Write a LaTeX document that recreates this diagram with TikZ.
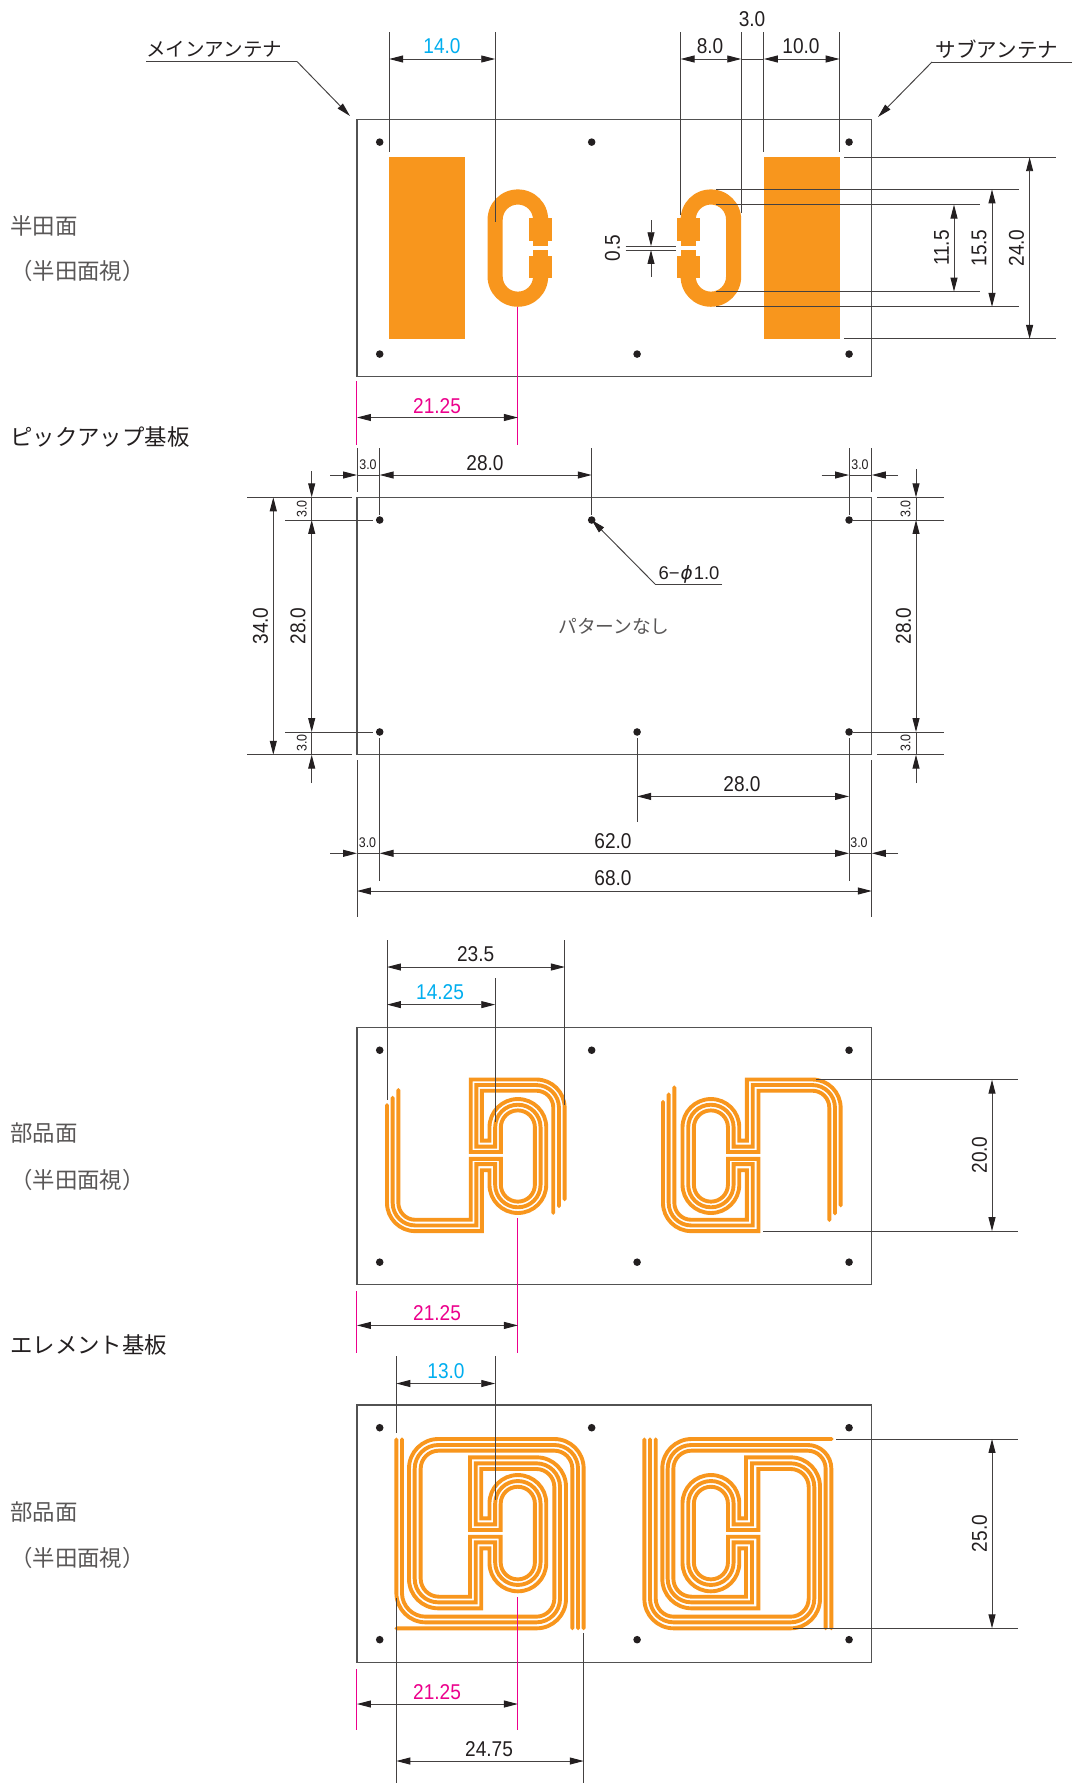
\documentclass[tikz,border=0pt]{standalone}
\usepackage{fontspec}
\setmainfont{Liberation Sans}
\newfontfamily\jp{Noto Sans CJK JP}
\newfontfamily\dimf[FakeStretch=0.89]{Liberation Sans}
\newfontfamily\symf{DejaVu Sans}
\usetikzlibrary{arrows.meta}
\definecolor{orng}{HTML}{F8961D}
\definecolor{cyn}{HTML}{00AEEF}
\definecolor{mgt}{HTML}{EC008C}
\definecolor{ink}{HTML}{231F20}
\definecolor{grayj}{HTML}{595757}
\tikzset{
  >={Triangle[length=14pt,width=7pt,color=ink]},
  brd/.style={draw=black!68,line width=1.1pt},
  ext/.style={draw=ink!85,line width=0.95pt},
  dimarrow/.style={draw=ink!85,line width=0.95pt,<->},
  tipr/.style={draw=ink!85,line width=0.95pt,->},
  dimt/.style={text=ink,font=\dimf\fontsize{21.5}{22}\selectfont,inner sep=0pt},
  dimr/.style={dimt,rotate=90},
  smallt/.style={text=ink,font=\dimf\fontsize{14}{14}\selectfont,inner sep=0pt},
  smallr/.style={smallt,rotate=90},
  lab/.style={text=grayj,font=\jp\fontsize{22.5}{23}\selectfont,inner sep=0pt,anchor=west},
  labk/.style={text=ink,inner sep=0pt,anchor=west},
  trace/.style={draw=orng,line width=3.9pt,line cap=round,line join=miter,miter limit=4},
  mag/.style={draw=mgt,line width=1.2pt},
  hole/.style={fill=ink,draw=none},
  brdscope/.style={x=7.57bp,y=-7.57bp},
  rO/.style={rounded corners=28.4pt}, rM/.style={rounded corners=22.7pt}, rI/.style={rounded corners=17pt},
  rP/.style={rounded corners=29.5pt}, rQ/.style={rounded corners=23.8pt}, rR/.style={rounded corners=18.2pt},
  sc/.style={sharp corners}
}
\newcommand{\boardbody}[1]{%
  \begin{scope}[shift={(357,#1)},brdscope]
    \draw[brd] (0,0) rectangle (68,34);
  \end{scope}}
\newcommand{\boardholes}[1]{%
  \begin{scope}[shift={(357,#1)},brdscope]
    \foreach \hx/\hy in {3/3,31/3,65/3,3/31,37/31,65/31}{\fill[hole] (\hx,\hy) circle[radius=3.8pt];}
  \end{scope}}
\begin{document}
\begin{tikzpicture}[x=1bp,y=-1bp]
\useasboundingbox (0,0) rectangle (1074,1783);
\fill[white] (0,0) rectangle (1074,1783);

%% ---------- side labels
\node[lab] (l1) at (10,226) {半田面};
\node[lab] (l2) at (10,271) {（半田面視）};
\node[lab] (l3) at (10,437) {\textcolor{ink}{ピックアップ基板}};
\node[lab] (l4) at (10,1133) {部品面};
\node[lab] (l5) at (10,1180) {（半田面視）};
\node[lab] (l6) at (10,1345) {\textcolor{ink}{エレメント基板}};
\node[lab] (l7) at (10,1512) {部品面};
\node[lab] (l8) at (10,1557.5) {（半田面視）};

%% ---------- board 1
\boardbody{119.4}
\begin{scope}[shift={(357,119.4)},brdscope]
  \fill[orng] (4.25,5) rectangle (14.25,29);
  \fill[orng] (53.75,5) rectangle (63.75,29);
  % left loop
  \fill[orng,even odd rule] [rounded corners=30.2pt] (17.25,9.25) rectangle (25.25,24.75)
     [rounded corners=15.1pt] (19.25,11.25) rectangle (23.25,22.75);
  \fill[orng] (22.75,13) rectangle (25.75,16);
  \fill[orng] (22.75,18) rectangle (25.75,21);
  \fill[white] (23,16.75) rectangle (26,17.25);
  \fill[white] (25.26,16) rectangle (26,18);
  % right loop
  \fill[orng,even odd rule] [rounded corners=30.2pt] (42.75,9.25) rectangle (50.75,24.75)
     [rounded corners=15.1pt] (44.75,11.25) rectangle (48.75,22.75);
  \fill[orng] (42.25,13) rectangle (45.25,16);
  \fill[orng] (42.25,18) rectangle (45.25,21);
  \fill[white] (42,16.75) rectangle (45,17.25);
  \fill[white] (42,16) rectangle (42.74,18);
\end{scope}
\boardholes{119.4}
% top dims
\draw[ext] (389.2,32) -- (389.2,152);
\draw[ext] (495.2,32) -- (495.2,221.7);
\draw[dimarrow] (389.2,59) -- (495.2,59);
\node[dimt,text=cyn] (d140) at (442,46) {14.0};
\draw[ext] (680.6,32) -- (680.6,215);
\draw[ext,line width=1.1pt] (741.2,32) -- (741.2,213);
\draw[ext] (763.9,32) -- (763.9,152);
\draw[ext] (839.6,32) -- (839.6,152);
\draw[dimarrow] (680.6,59) -- (741.2,59);
\draw[ext] (741.2,59) -- (763.9,59);
\draw[dimarrow] (763.9,59) -- (839.6,59);
\node[dimt] (d80) at (710,46) {8.0};
\node[dimt] (d100) at (801,46) {10.0};
\node[dimt] (d30a) at (752,19) {3.0};
% right dims
\draw[ext] (844,157.25) -- (1056,157.25);
\draw[ext] (844,338.9) -- (1056,338.9);
\draw[dimarrow] (1029.6,157.25) -- (1029.6,338.9);
\node[dimr] (d240) at (1016.5,248) {24.0};
\draw[ext] (715.8,189.4) -- (1018.8,189.4);
\draw[ext] (715.8,306.8) -- (1018.8,306.8);
\draw[dimarrow] (992,189.4) -- (992,306.8);
\node[dimr] (d155) at (979,248) {15.5};
\draw[ext] (715.8,204.6) -- (980.4,204.6);
\draw[ext] (715.8,291.6) -- (980.4,291.6);
\draw[dimarrow] (954,204.6) -- (954,291.6);
\node[dimr] (d115) at (941.6,248) {11.5};
% 0.5
\draw[ext] (625.6,246.2) -- (676,246.2);
\draw[ext] (625.6,250) -- (676,250);
\draw[tipr] (651,220) -- (651,246.2);
\draw[tipr] (651,276.7) -- (651,250);
\node[dimr] (d05) at (612.5,248) {0.5};
% magenta
\draw[mag] (517.5,306.8) -- (517.5,445);
\draw[mag] (356.5,381) -- (356.5,445);
\draw[dimarrow] (357,417.5) -- (517.9,417.5);
\node[dimt,text=mgt] (d2125a) at (437,406) {21.25};
% leaders
\node[labk,font=\jp\fontsize{19.6}{20}\selectfont] (mainant) at (146,49) {メインアンテナ};
\coordinate (mk) at (297,61.5);
\draw[ext] (146,61.5) -- (mk);
\draw[tipr] (mk) -- (350,116);
\node[labk,font=\jp\fontsize{20.6}{21}\selectfont] (subant) at (935.5,49) {サブアンテナ};
\coordinate (sk) at (932,62);
\draw[ext] (1072,62) -- (sk);
\draw[tipr] (sk) -- (878,117);

%% ---------- board 2
\boardbody{497.3}
\boardholes{497.3}
\fill[white] (351.7,492) rectangle (362,497);
\node[text=grayj,font=\jp\fontsize{18.8}{20}\selectfont,inner sep=0pt] (patt) at (614,626) {パターンなし};
% top
\draw[ext] (357,448) -- (357,491.7);
\draw[ext] (379.7,448) -- (379.7,515);
\draw[ext] (591.7,448) -- (591.7,515);
\draw[ext] (849,448) -- (849,515);
\draw[ext] (871.8,448) -- (871.8,491.7);
\draw[tipr] (330,475) -- (357,475);
\draw[ext] (357,475) -- (379.7,475);
\draw[dimarrow] (379.7,475) -- (591.7,475);
\node[dimt] (d280a) at (485,462.7) {28.0};
\node[smallt] (s30a) at (368,465) {3.0};
\draw[tipr] (821.5,475) -- (849,475);
\draw[ext] (849,475) -- (871.8,475);
\draw[tipr] (898,475) -- (871.8,475);
\node[smallt] (s30b) at (860,464.5) {3.0};
% left
\draw[ext] (247,497.3) -- (351.7,497.3);
\draw[ext] (285,520) -- (373,520);
\draw[ext] (285,732) -- (373,732);
\draw[ext] (247,754.7) -- (351.7,754.7);
\draw[dimarrow] (273.3,497.3) -- (273.3,754.7);
\node[dimr] (d340) at (260.5,626) {34.0};
\draw[tipr] (311.7,471) -- (311.7,497.3);
\draw[ext] (311.7,497.3) -- (311.7,520);
\draw[dimarrow] (311.7,520) -- (311.7,732);
\draw[ext] (311.7,732) -- (311.7,754.7);
\draw[tipr] (311.7,783) -- (311.7,754.7);
\node[dimr] (d280b) at (298,626) {28.0};
\node[smallr] (s30c) at (301.7,509) {3.0};
\node[smallr] (s30d) at (301.7,743) {3.0};
% right
\draw[ext] (877,497.3) -- (944,497.3);
\draw[ext] (853,520) -- (944,520);
\draw[ext] (853,732) -- (944,732);
\draw[ext] (877,754.7) -- (944,754.7);
\draw[tipr] (916,469) -- (916,497.3);
\draw[ext] (916,497.3) -- (916,520);
\draw[dimarrow] (916,520) -- (916,732);
\draw[ext] (916,732) -- (916,754.7);
\draw[tipr] (916,783) -- (916,754.7);
\node[dimr] (d280c) at (903.5,626) {28.0};
\node[smallr] (s30e) at (905.6,509) {3.0};
\node[smallr] (s30f) at (905.6,743) {3.0};
% bottom
\draw[ext] (637.1,738) -- (637.1,822);
\draw[ext] (849,738) -- (849,880.6);
\draw[ext] (379.7,738) -- (379.7,880.6);
\draw[ext] (357,760) -- (357,917);
\draw[ext] (871.8,760) -- (871.8,917);
\draw[dimarrow] (637.1,796.4) -- (849,796.4);
\node[dimt] (d280d) at (742,784) {28.0};
\draw[dimarrow] (379.7,853.3) -- (849,853.3);
\node[dimt] (d620) at (613,841) {62.0};
\draw[tipr] (330,853.3) -- (357,853.3);
\draw[ext] (357,853.3) -- (379.7,853.3);
\draw[tipr] (898,853.3) -- (871.8,853.3);
\draw[ext] (849,853.3) -- (871.8,853.3);
\node[smallt] (s30g) at (367.5,843) {3.0};
\node[smallt] (s30h) at (859,843) {3.0};
\draw[dimarrow] (357,891) -- (871.8,891);
\node[dimt] (d680) at (613,878) {68.0};
% phi leader
\coordinate (pk) at (655,584);
\draw[ext] (722,584) -- (pk);
\draw[tipr] (pk) -- (591.7,520);
\node[text=ink,font=\fontsize{18.5}{19}\selectfont,inner sep=0pt] (phi) at (689,574) {6−\kern1pt{\symf\itshape ϕ}\kern1pt 1.0};

%% ---------- board 3
\boardbody{1027.5}
\begin{scope}[shift={(357,1027.5)},brdscope]
  % left coil
  \draw[trace] (3.96,10.24) [rO] -- (3.96,26.9) [sc] -- (16.5,26.9) -- (16.5,18.85) -- (17.5,18.85) [rO] -- (17.5,24.5) -- (25,24.5) -- (25,9.45) -- (17.5,9.45) [sc] -- (17.5,14.95) -- (16.5,14.95) -- (16.5,8.35) [rI] -- (25.93,8.35) [sc] -- (25.93,24.5);
  \draw[trace] (4.71,9.27) [rM] -- (4.71,26.15) [sc] -- (15.76,26.15) -- (15.76,18.05) -- (18.25,18.05) [rM] -- (18.25,23.75) -- (24.25,23.75) -- (24.25,10.2) -- (18.25,10.2) [sc] -- (18.25,15.74) -- (15.76,15.74) -- (15.76,7.6) [rM] -- (26.68,7.6) [sc] -- (26.68,23.6);
  \draw[trace] (5.46,8.25) [rI] -- (5.46,25.4) [sc] -- (15.02,25.4) -- (15.02,17.35) -- (19,17.35) [rI] -- (19,23) -- (23.5,23) -- (23.5,10.95) -- (19,10.95) [sc] -- (19,16.45) -- (15.02,16.45) -- (15.02,6.87) [rO] -- (27.43,6.87) [sc] -- (27.43,22.7);
  % right coil
  \draw[trace] (40.42,9.8) [rO] -- (40.42,26.9) [sc] -- (53.03,26.9) -- (53.03,17.35) -- (49,17.35) [rI] -- (49,23) -- (44.5,23) -- (44.5,10.95) -- (49,10.95) [sc] -- (49,16.45) -- (53.03,16.45) -- (53.03,8.35) [rI] -- (62.39,8.35) [sc] -- (62.39,25.43);
  \draw[trace] (41.17,8.83) [rM] -- (41.17,26.15) [sc] -- (52.28,26.15) -- (52.28,18.05) -- (49.75,18.05) [rM] -- (49.75,23.75) -- (43.75,23.75) -- (43.75,10.2) -- (49.75,10.2) [sc] -- (49.75,15.74) -- (52.28,15.74) -- (52.28,7.6) [rM] -- (63.14,7.6) [sc] -- (63.14,24.55);
  \draw[trace] (41.92,7.9) [rI] -- (41.92,25.4) [sc] -- (51.5,25.4) -- (51.5,18.85) -- (50.5,18.85) [rO] -- (50.5,24.5) -- (43,24.5) -- (43,9.45) -- (50.5,9.45) [sc] -- (50.5,14.95) -- (51.5,14.95) -- (51.5,6.87) [rO] -- (63.89,6.87) [sc] -- (63.89,23.5);
\end{scope}
\boardholes{1027.5}
\draw[ext] (387,940) -- (387,1100);
\draw[ext] (564.9,940) -- (564.9,1105);
\draw[ext] (495.2,978) -- (495.2,1121.7);
\draw[dimarrow] (387,967) -- (564.9,967);
\node[dimt] (d235) at (475.6,954.5) {23.5};
\draw[dimarrow] (387,1004.6) -- (495.2,1004.6);
\node[dimt,text=cyn] (d1425) at (440,992) {14.25};
\draw[ext] (816,1079.7) -- (1018,1079.7);
\draw[ext] (763,1231.1) -- (1018,1231.1);
\draw[dimarrow] (992,1079.7) -- (992,1231.1);
\node[dimr] (d200) at (979.6,1155) {20.0};
\draw[mag] (517.5,1218) -- (517.5,1352.7);
\draw[mag] (356.5,1291) -- (356.5,1352.7);
\draw[dimarrow] (357,1325.4) -- (517.9,1325.4);
\node[dimt,text=mgt] (d2125b) at (437,1313) {21.25};

%% ---------- board 4
\boardbody{1405}
\begin{scope}[shift={(357,1405)},brdscope]
  % left coil
  \draw[trace] (5.2,29.5) [rP] -- (27.61,29.5) -- (27.61,6.91) [sc] -- (14.93,6.91) -- (14.93,16.51) -- (18.98,16.51) [rI] -- (18.98,10.8) -- (23.5,10.8) -- (23.5,23.03) -- (18.98,23.03) [sc] -- (18.98,17.4) -- (14.93,17.4) -- (14.93,25.32) [rR] -- (8.41,25.32) -- (8.41,6.03) -- (28.45,6.03) [sc] -- (28.45,29.5);
  \draw[trace] (5.2,4.54) [rP] -- (5.2,28.71) [rQ] -- (26.82,28.71) -- (26.82,7.7) [sc] -- (15.68,7.7) -- (15.68,15.76) -- (18.25,15.76) [rM] -- (18.25,10.04) -- (24.25,10.04) -- (24.25,23.77) -- (18.25,23.77) [sc] -- (18.25,18.14) -- (15.68,18.14) -- (15.68,26.07) [rQ] -- (7.62,26.07) -- (7.62,5.28) -- (29.2,5.28) [sc] -- (29.2,29.5);
  \draw[trace] (5.94,4.54) [rQ] -- (5.94,27.96) [rR] -- (26.07,27.96) -- (26.07,8.45) [sc] -- (16.42,8.45) -- (16.42,14.97) -- (17.5,14.97) [rO] -- (17.5,9.25) -- (25,9.25) -- (25,24.61) -- (17.5,24.61) [sc] -- (17.5,18.94) -- (16.42,18.94) -- (16.42,26.86) [rP] -- (6.87,26.86) -- (6.87,4.49) -- (29.94,4.49) [sc] -- (29.94,29.5);
  % right coil
  \draw[trace] (37.96,4.54) [rP] -- (37.96,29.5) -- (61.16,29.5) -- (61.16,6.91) [sc] -- (51.38,6.91) -- (51.38,14.97) -- (50.5,14.97) [rO] -- (50.5,9.25) -- (43,9.25) -- (43,24.61) -- (50.5,24.61) [sc] -- (50.5,18.94) -- (51.38,18.94) -- (51.38,25.32) [rR] -- (41.79,25.32) -- (41.79,6.03) -- (61.91,6.03) [sc] -- (61.91,29.5);
  \draw[trace] (38.7,4.54) [rQ] -- (38.7,28.71) -- (60.41,28.71) -- (60.41,7.7) [sc] -- (52.18,7.7) -- (52.18,15.76) -- (49.75,15.76) [rM] -- (49.75,10.04) -- (43.75,10.04) -- (43.75,23.77) -- (49.75,23.77) [sc] -- (49.75,18.14) -- (52.18,18.14) -- (52.18,26.07) [rQ] -- (41.04,26.07) -- (41.04,5.28) -- (62.66,5.28) [sc] -- (62.66,29.5);
  \draw[trace] (39.46,4.54) [rR] -- (39.46,27.96) -- (59.67,27.96) -- (59.67,8.45) [sc] -- (53.02,8.45) -- (53.02,16.51) -- (49,16.51) [rI] -- (49,10.8) -- (44.5,10.8) -- (44.5,23.03) -- (49,23.03) [sc] -- (49,17.4) -- (53.02,17.4) -- (53.02,26.86) [rP] -- (40.33,26.86) -- (40.33,4.49) [sc] -- (62.7,4.49);
\end{scope}
\boardholes{1405}
\draw[ext] (396.3,1356) -- (396.3,1433);
\draw[ext] (495.2,1356) -- (495.2,1500);
\draw[dimarrow] (396.3,1383.5) -- (495.2,1383.5);
\node[dimt,text=cyn] (d130) at (446,1371) {13.0};
\draw[ext] (396.3,1598) -- (396.3,1783);
\draw[ext] (583.7,1633) -- (583.7,1783);
\draw[dimarrow] (396.3,1761) -- (583.7,1761);
\node[dimt] (d2475) at (489,1749) {24.75};
\draw[ext] (836,1439) -- (1018,1439);
\draw[ext] (793,1628.3) -- (1018,1628.3);
\draw[dimarrow] (992,1439) -- (992,1628.3);
\node[dimr] (d250) at (979.6,1533.6) {25.0};
\draw[mag] (517.5,1597) -- (517.5,1730);
\draw[mag] (356.5,1669) -- (356.5,1730);
\draw[dimarrow] (357,1704) -- (517.9,1704);
\node[dimt,text=mgt] (d2125c) at (437,1692) {21.25};
\end{tikzpicture}
\end{document}
